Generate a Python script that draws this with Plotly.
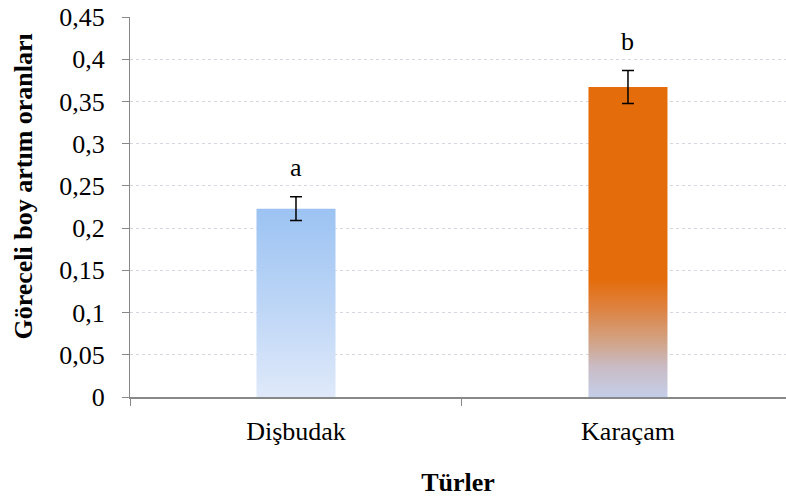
import plotly.graph_objects as go

# Species and relative height-growth ratios with standard errors
species = ["Dişbudak", "Karaçam"]
ratios = [0.223, 0.367]
errors = [0.014, 0.0195]
letters = ["a", "b"]

y_ticks = [0, 0.05, 0.1, 0.15, 0.2, 0.25, 0.3, 0.35, 0.4, 0.45]
y_tick_text = ["0", "0,05", "0,1", "0,15", "0,2", "0,25", "0,3", "0,35", "0,4", "0,45"]

bar_width = 0.238
FONT = "Liberation Serif, Times New Roman, serif"

# Vertical gradients (positions relative to bar height)
blue_scale = [[0.0, "rgb(223,233,250)"], [0.5, "rgb(188,213,246)"], [1.0, "rgb(156,195,243)"]]


def orange_scale(h):
    # orange stays solid above ~0.14, fading to a pale periwinkle at the base
    pts = [(0.0, "rgb(196,206,232)"), (0.035, "rgb(201,188,198)"), (0.07, "rgb(211,160,126)"),
           (0.105, "rgb(222,130,64)"), (0.14, "rgb(228,108,10)")]
    return [[v / h, c] for v, c in pts] + [[1.0, "rgb(228,108,10)"]]


scales = [blue_scale, orange_scale(ratios[1])]

fig = go.Figure()

for i, (name, v) in enumerate(zip(species, ratios)):
    x0, x1 = i - bar_width / 2, i + bar_width / 2
    fig.add_trace(go.Scatter(
        x=[x0, x1, x1, x0, x0], y=[0, 0, v, v, 0],
        mode="lines", line=dict(width=0), fill="toself",
        fillgradient=dict(type="vertical", colorscale=scales[i], start=0, stop=v),
        name=name, showlegend=False, hoverinfo="skip",
    ))

# Error bars
fig.add_trace(go.Scatter(
    x=list(range(len(species))), y=ratios, mode="markers",
    marker=dict(size=1, color="rgba(0,0,0,0)"),
    error_y=dict(type="data", array=errors, visible=True, color="black", thickness=1.5, width=6),
    showlegend=False, hoverinfo="skip",
))

# Significance letters above the error bars
for i, (v, e, t) in enumerate(zip(ratios, errors, letters)):
    fig.add_annotation(x=i, y=v + e, text=t, showarrow=False, yanchor="middle", yshift=29,
                       font=dict(family=FONT, size=26, color="black"))

# Y-axis title
fig.add_annotation(xref="paper", yref="paper", x=-0.162, y=0.553, textangle=-90,
                   text="<b>Göreceli boy artım oranları</b>", showarrow=False,
                   xanchor="center", yanchor="middle",
                   font=dict(family=FONT, size=26, color="black"))

fig.update_layout(
    width=786, height=497,
    margin=dict(l=130, r=0, t=17, b=100),
    paper_bgcolor="white", plot_bgcolor="white",
    font=dict(family=FONT, size=26, color="black"),
    xaxis=dict(
        range=[-0.5, 1.476], tickvals=[0, 1], ticktext=species, ticks="",
        showgrid=False, zeroline=False, showline=True, linecolor="#888888", linewidth=2,
        minor=dict(ticks="outside", tick0=0.5, dtick=1, ticklen=7, tickcolor="#888888", tickwidth=1, showgrid=False),
        ticklabelstandoff=10,
        title=dict(text="<b>Türler</b>", font=dict(family=FONT, size=26), standoff=30),
        fixedrange=True,
    ),
    yaxis=dict(
        range=[0, 0.45], tickvals=y_ticks, ticktext=y_tick_text,
        ticks="outside", ticklen=7, tickcolor="#888888", tickwidth=1,
        showline=True, linecolor="#888888", linewidth=1, zeroline=False,
        showgrid=True, gridcolor="#d6d6e2", gridwidth=1, griddash="dot",
        ticklabelstandoff=12,
        fixedrange=True,
    ),
)

fig.write_html("out.html")
